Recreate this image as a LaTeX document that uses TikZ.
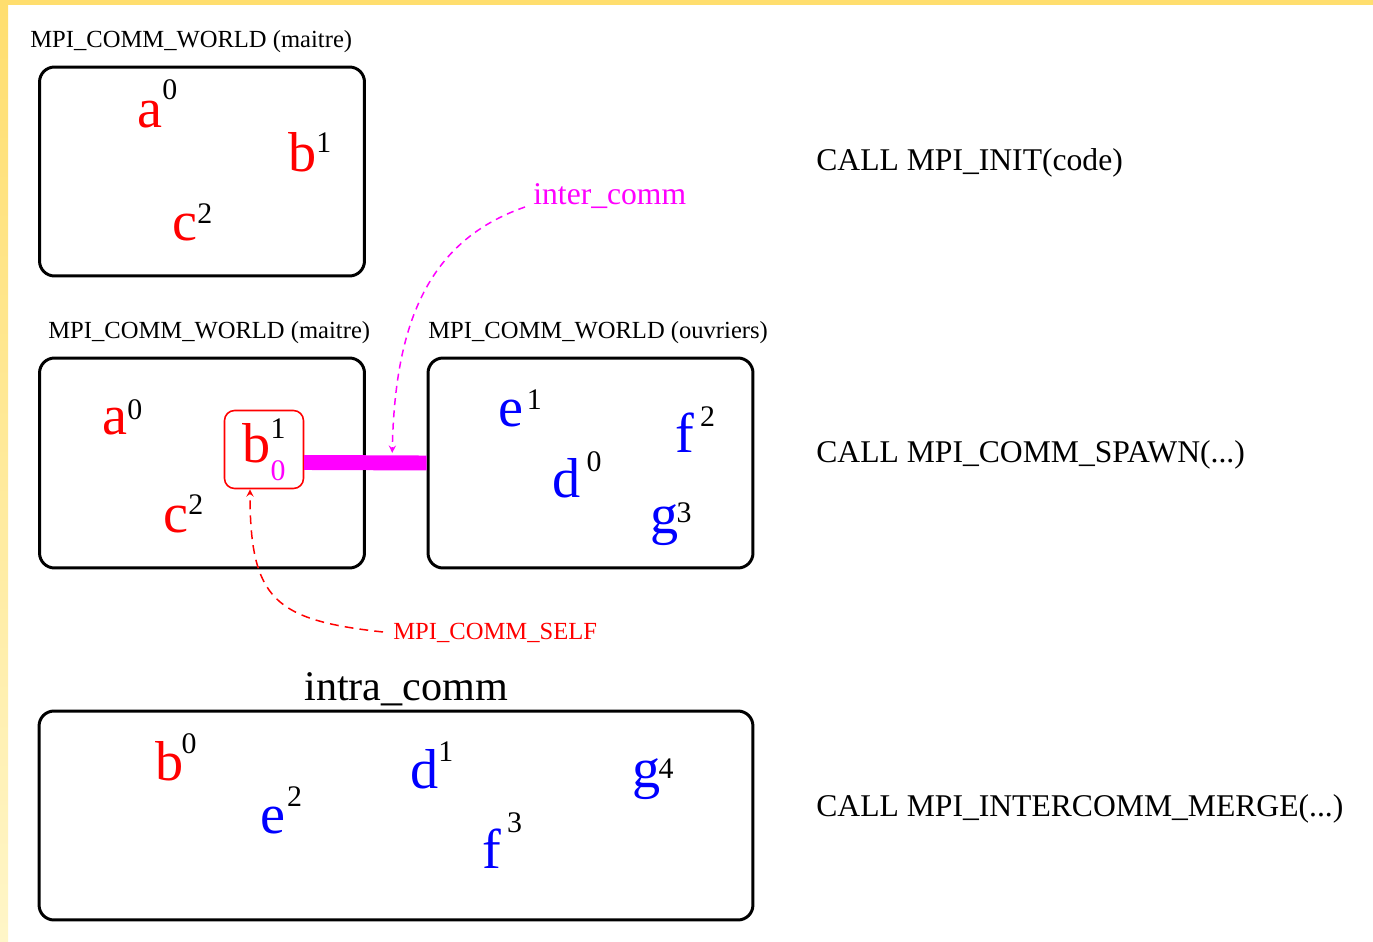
\documentclass[tikz,border=0pt]{standalone}
\usepackage{fontspec}
\setmainfont{Liberation Serif}
\usetikzlibrary{arrows,calc,positioning}

\definecolor{bandeau}{RGB}{255,222,110}
\definecolor{bandeauclair}{RGB}{255,246,200}
\definecolor{interMagenta}{RGB}{255,0,255}
\newcommand{\supsize}{\fontsize{17}{19}\selectfont}
\newcommand{\proc}[5]{{\color{#1}#2}\kern#5pt\raisebox{#4pt}{\supsize #3}}

\begin{document}
\begin{tikzpicture}[
    x=0.02cm, y=-0.02cm, >=stealth,
    % Styles
    commBox/.style={draw, line width=1.7pt, rounded corners=8.5pt, minimum width=6.5cm, minimum height=4.2cm},
    worldLabel/.style={anchor=base west, inner sep=0pt, font=\fontsize{14}{16}\selectfont},
    callLabel/.style={anchor=base west, inner sep=0pt, font=\fontsize{18}{20}\selectfont},
    procNode/.style={anchor=base west, inner sep=0pt, font=\fontsize{32}{34}\selectfont},
    commArrow/.style={->, line width=0.85pt, dash pattern=on 4pt off 3pt}
]

% ================= FOND (bandeau jaune) =================
\useasboundingbox (0,0) rectangle (1373,942);
\fill[bandeau] (0,0) rectangle (1373,5);
\shade[top color=bandeau, bottom color=bandeauclair] (0,0) rectangle (8,942);

% ================= ETAPE 1: MPI_INIT =================
\node[worldLabel] (lblInit) at (30,48) {MPI\_COMM\_WORLD (maitre)};
\node[commBox, minimum height=4.18cm] (maitreInit) at (202,171.5) {};
\node[procNode] (a1) at (137,128) {\proc{red}{a}{0}{16}{0}};
\node[procNode] (b1) at (288,172) {\proc{red}{b}{1}{11}{0}};
\node[procNode] (c1) at (172,241) {\proc{red}{c}{2}{10}{0}};
\node[callLabel] (callInit) at (816,171) {CALL MPI\_INIT(code)};

% ================= ETAPE 2: MPI_COMM_SPAWN =================
\node[worldLabel] (lblMaitre) at (48,339) {MPI\_COMM\_WORLD (maitre)};
\node[worldLabel] (lblOuvriers) at (428,339) {MPI\_COMM\_WORLD (ouvriers)};

% inter-communicateur (sous les cadres)
\coordinate (barStart) at (304,462.5);
\node[commBox] (ouvriers) at (590.5,463) {};
\draw[interMagenta, line width=8.5pt] (barStart) -- coordinate[pos=0.72] (barPoint) (ouvriers.west);
\node[commBox] (maitreSpawn) at (202,463) {};

% maitre
\node[procNode] (a2) at (102,435) {\proc{red}{a}{0}{9}{0}};
\node[procNode] (c2) at (163,532) {\proc{red}{c}{2}{10}{0}};
\node[draw=red, fill=white, line width=0.9pt, rounded corners=5.7pt, minimum width=1.58cm, minimum height=1.56cm, inner sep=0pt, font=\fontsize{32}{34}\selectfont] (bself) at (264,449.5)
    {{\color{red}b}\rlap{\raisebox{14pt}{\supsize 1}}\raisebox{-10pt}{\supsize\color{interMagenta}0}};
\draw[interMagenta, line width=8.5pt] (bself.east |- barStart) -- (maitreSpawn.east |- barStart);

% ouvriers
\node[procNode] (e2) at (498,427) {\proc{blue}{e}{1}{10}{2}};
\node[procNode] (f2) at (675,453) {\proc{blue}{f}{2}{15}{3.5}};
\node[procNode] (d2) at (552,498) {\proc{blue}{d}{0}{15}{3.5}};
\node[procNode] (g2) at (650,533) {\proc{blue}{g}{3}{6}{-1}};

\node[callLabel] (callSpawn) at (816,462) {CALL MPI\_COMM\_SPAWN(...)};

\node[anchor=base west, inner sep=0pt, interMagenta, font=\fontsize{18}{20}\selectfont] (interLbl) at (533,205) {inter\_comm};
\draw[commArrow, interMagenta] ($(interLbl.base west)+(-8,2)$) .. controls (430,240) and (395,320) .. ($(barPoint)+(0,-10)$);

\node[anchor=base west, inner sep=0pt, red, font=\fontsize{14}{16}\selectfont] (selfLbl) at (393,639) {MPI\_COMM\_SELF};
\draw[commArrow, red, dash pattern=on 5pt off 3.5pt] ($(selfLbl.base west)+(-10,-7)$) .. controls (275,620) and (250,600) .. ($(bself.south)+(-14,0)$);

% ================= ETAPE 3: MPI_INTERCOMM_MERGE =================
\node[anchor=base west, inner sep=0pt, font=\fontsize{24}{26}\selectfont] (intraLbl) at (304,700) {intra\_comm};
\node[commBox, minimum width=14.28cm, minimum height=4.18cm] (intraBox) at (396,815.5) {};
\node[procNode] (b3) at (155,780) {\proc{red}{b}{0}{15}{-1}};
\node[procNode] (e3) at (260,833) {\proc{blue}{e}{2}{15}{1}};
\node[procNode] (d3) at (410,788) {\proc{blue}{d}{1}{15}{0}};
\node[procNode] (f3) at (482,868) {\proc{blue}{f}{3}{20}{3.5}};
\node[procNode] (g3) at (632,787) {\proc{blue}{g}{4}{5}{-1}};
\node[callLabel] (callMerge) at (816,816) {CALL MPI\_INTERCOMM\_MERGE(...)};

\end{tikzpicture}
\end{document}
